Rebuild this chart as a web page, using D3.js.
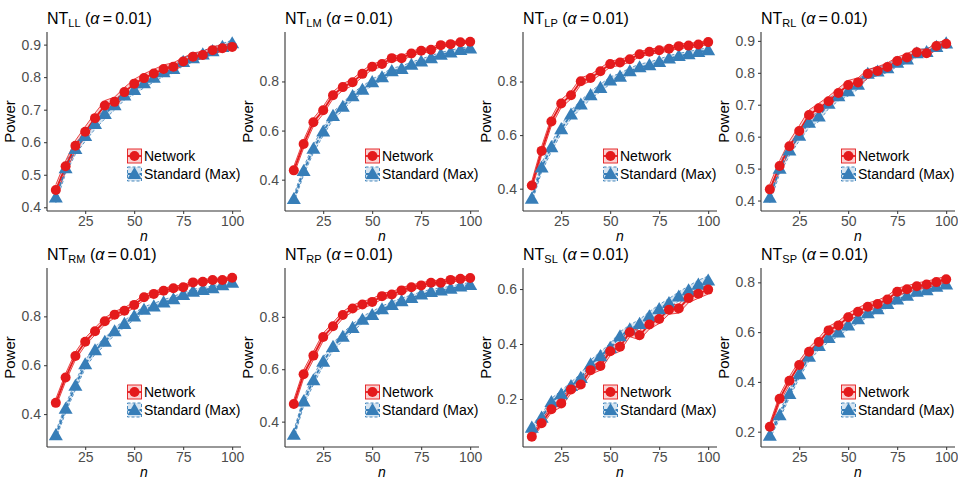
<!DOCTYPE html>
<html><head><meta charset="utf-8">
<script src="https://cdn.jsdelivr.net/npm/d3@7"></script>
<style>
body{margin:0;background:#fff}
text{font-family:"Liberation Sans",Arial,Helvetica,sans-serif}
</style>
</head><body>
<svg id="chart" width="958" height="480"></svg>
<script>
// ---------------- data ----------------
const sampleSizes = [10,15,20,25,30,35,40,45,50,55,60,65,70,75,80,85,90,95,100];
const seriesNames = ["Network", "Standard (Max)"];
const panelSubscripts = ["LL","LM","LP","RL","RM","RP","SL","SP"];
const alphaLevel = "0.01";
const xTicks = [25, 50, 75, 100];
const yTicksLL = [0.4,0.5,0.6,0.7,0.8,0.9];
const yTicksLM = [0.4,0.6,0.8];
const yTicksLP = [0.4,0.6,0.8];
const yTicksRL = [0.4,0.5,0.6,0.7,0.8,0.9];
const yTicksRM = [0.4,0.6,0.8];
const yTicksRP = [0.4,0.6,0.8];
const yTicksSL = [0.2,0.4,0.6];
const yTicksSP = [0.2,0.4,0.6,0.8];
const nReplicates = 3500; // Monte Carlo replicates behind each power estimate (for the CI band)

const networkLL  = [0.453,0.526,0.589,0.632,0.674,0.713,0.724,0.754,0.780,0.797,0.811,0.825,0.832,0.848,0.863,0.868,0.883,0.889,0.893];
const standardLL = [0.430,0.520,0.579,0.619,0.656,0.687,0.714,0.744,0.761,0.781,0.798,0.815,0.825,0.847,0.858,0.870,0.880,0.893,0.904];
const networkLM  = [0.438,0.545,0.634,0.683,0.744,0.777,0.797,0.831,0.860,0.871,0.895,0.895,0.914,0.925,0.929,0.948,0.952,0.960,0.962];
const standardLM = [0.321,0.435,0.526,0.596,0.660,0.697,0.740,0.766,0.797,0.817,0.842,0.851,0.868,0.881,0.895,0.909,0.918,0.928,0.934];
const networkLP  = [0.412,0.541,0.651,0.718,0.749,0.801,0.813,0.838,0.865,0.871,0.883,0.902,0.911,0.917,0.922,0.932,0.934,0.938,0.947];
const standardLP = [0.363,0.479,0.555,0.622,0.677,0.714,0.749,0.776,0.804,0.818,0.838,0.853,0.861,0.873,0.886,0.895,0.902,0.910,0.917];
const networkRL  = [0.435,0.508,0.570,0.618,0.668,0.689,0.711,0.737,0.762,0.770,0.797,0.806,0.818,0.837,0.848,0.864,0.861,0.884,0.891];
const standardRL = [0.409,0.500,0.557,0.603,0.644,0.663,0.703,0.727,0.742,0.763,0.797,0.804,0.814,0.832,0.842,0.861,0.865,0.881,0.892];
const networkRM  = [0.446,0.550,0.638,0.696,0.739,0.780,0.807,0.823,0.847,0.878,0.892,0.905,0.915,0.919,0.939,0.942,0.949,0.949,0.958];
const standardRM = [0.314,0.422,0.516,0.604,0.661,0.696,0.739,0.769,0.800,0.827,0.841,0.857,0.870,0.888,0.901,0.908,0.915,0.928,0.938];
const networkRP  = [0.467,0.581,0.652,0.723,0.764,0.807,0.832,0.847,0.857,0.879,0.885,0.901,0.913,0.920,0.930,0.930,0.941,0.945,0.948];
const standardRP = [0.350,0.477,0.558,0.629,0.685,0.724,0.758,0.789,0.807,0.829,0.845,0.860,0.872,0.885,0.895,0.901,0.907,0.916,0.922];
const networkSL  = [0.063,0.112,0.163,0.184,0.235,0.253,0.305,0.320,0.374,0.390,0.443,0.432,0.471,0.491,0.525,0.529,0.567,0.583,0.598];
const standardSL = [0.096,0.132,0.189,0.217,0.247,0.277,0.326,0.356,0.386,0.428,0.453,0.473,0.501,0.527,0.549,0.573,0.595,0.616,0.631];
const networkSP  = [0.220,0.332,0.405,0.468,0.521,0.560,0.607,0.627,0.660,0.682,0.702,0.713,0.731,0.762,0.772,0.784,0.791,0.801,0.812];
const standardSP = [0.184,0.266,0.352,0.431,0.501,0.544,0.577,0.599,0.627,0.652,0.676,0.692,0.713,0.731,0.746,0.762,0.768,0.782,0.792];

const panels = [
  {sub:"LL", net:networkLL, std:standardLL, ticks:yTicksLL},
  {sub:"LM", net:networkLM, std:standardLM, ticks:yTicksLM},
  {sub:"LP", net:networkLP, std:standardLP, ticks:yTicksLP},
  {sub:"RL", net:networkRL, std:standardRL, ticks:yTicksRL},
  {sub:"RM", net:networkRM, std:standardRM, ticks:yTicksRM},
  {sub:"RP", net:networkRP, std:standardRP, ticks:yTicksRP},
  {sub:"SL", net:networkSL, std:standardSL, ticks:yTicksSL},
  {sub:"SP", net:networkSP, std:standardSP, ticks:yTicksSP}
];

// ---------------- style / layout ----------------
const RED = "#E41A1C", BLUE = "#377EB8";
const colLeft = [47, 285, 523, 761];
const rowTop = [32, 268];
const plotW = 194, plotH = 179;

const svg = d3.select("#chart");

function ci(p){ return 1.96 * Math.sqrt(p*(1-p)/nReplicates); }

const triangle = d3.symbol().type(d3.symbolTriangle).size(85);

panels.forEach((pn, i) => {
  const col = i % 4, row = Math.floor(i / 4);
  const left = colLeft[col], top = rowTop[row];
  const g = svg.append("g").attr("transform", `translate(${left},${top})`);

  const seriesData = [
    {name: seriesNames[1], vals: pn.std, color: BLUE, dash: "4,2", kind: "tri"},
    {name: seriesNames[0], vals: pn.net, color: RED, dash: null, kind: "circ"}
  ].map(s => ({...s, pts: s.vals.map((v, k) => ({n: sampleSizes[k], p: v, lo: v - ci(v), hi: v + ci(v)}))}));

  const allLo = d3.min(seriesData, s => d3.min(s.pts, d => d.lo));
  const allHi = d3.max(seriesData, s => d3.max(s.pts, d => d.hi));
  const yPad = (allHi - allLo) * 0.05;
  const xPad = (d3.max(sampleSizes) - d3.min(sampleSizes)) * 0.05;

  const x = d3.scaleLinear().domain([d3.min(sampleSizes) - xPad, d3.max(sampleSizes) + xPad]).range([0, plotW]);
  const y = d3.scaleLinear().domain([allLo - yPad, allHi + yPad]).range([plotH, 0]);

  const area = d3.area().x(d => x(d.n)).y0(d => y(d.lo)).y1(d => y(d.hi));
  const lineLo = d3.line().x(d => x(d.n)).y(d => y(d.lo));
  const lineHi = d3.line().x(d => x(d.n)).y(d => y(d.hi));
  const line = d3.line().x(d => x(d.n)).y(d => y(d.p));

  // ribbons
  seriesData.forEach(s => {
    g.append("path").attr("d", area(s.pts)).attr("fill", s.color).attr("fill-opacity", 0.2);
    [lineLo, lineHi].forEach(f => g.append("path").attr("d", f(s.pts)).attr("fill", "none")
      .attr("stroke", s.color).attr("stroke-width", 0.8).attr("stroke-dasharray", s.dash ? "3,2" : null));
  });
  // lines
  seriesData.forEach(s => {
    g.append("path").attr("d", line(s.pts)).attr("fill", "none").attr("stroke", s.color)
      .attr("stroke-width", 1.8).attr("stroke-dasharray", s.dash);
  });
  // points
  seriesData.forEach(s => {
    if (s.kind === "circ") {
      g.selectAll(null).data(s.pts).enter().append("circle")
        .attr("cx", d => x(d.n)).attr("cy", d => y(d.p)).attr("r", 5).attr("fill", s.color);
    } else {
      g.selectAll(null).data(s.pts).enter().append("path")
        .attr("d", triangle).attr("transform", d => `translate(${x(d.n)},${y(d.p) + 1})`).attr("fill", s.color);
    }
  });

  // axes
  const xAxis = g.append("g").attr("transform", `translate(0,${plotH})`)
    .call(d3.axisBottom(x).tickValues(xTicks).tickSize(3).tickPadding(2).tickSizeOuter(0));
  const yAxis = g.append("g")
    .call(d3.axisLeft(y).tickValues(pn.ticks).tickFormat(d3.format(".1f")).tickSize(3).tickPadding(3).tickSizeOuter(0));
  [xAxis, yAxis].forEach(a => {
    a.select(".domain").attr("stroke", "#333").attr("stroke-width", 1.1);
    a.selectAll(".tick line").attr("stroke", "#333");
    a.selectAll(".tick text").attr("fill", "#4D4D4D").style("font-size", "14px")
      .style("font-family", '"Liberation Sans",Arial,sans-serif');
  });
  yAxis.select(".domain").attr("d", `M0,0V${plotH}`);
  xAxis.select(".domain").attr("d", `M0,0H${plotW}`);

  // axis titles
  g.append("text").attr("transform", `translate(${-32},${plotH/2}) rotate(-90)`)
    .attr("text-anchor", "middle").style("font-size", "15px").attr("fill", "#000").text("Power");
  g.append("text").attr("x", plotW/2).attr("y", plotH + 30).attr("text-anchor", "middle")
    .style("font-size", "14px").style("font-style", "italic").attr("fill", "#000").text("n");

  // title
  const t = g.append("text").attr("x", 0).attr("y", -8).style("font-size", "16px").attr("fill", "#000")
    .attr("xml:space", "preserve");
  t.append("tspan").text("NT");
  t.append("tspan").attr("dy", 3).style("font-size", "11px").text(pn.sub);
  t.append("tspan").attr("dy", -3).text(" (");
  t.append("tspan").style("font-style", "italic").text("α");
  t.append("tspan").text("\u2009=\u2009" + alphaLevel + ")");

  // legend
  const legendItems = [
    {name: seriesNames[0], color: RED, dash: null, kind: "circ"},
    {name: seriesNames[1], color: BLUE, dash: "3,2", kind: "tri"}
  ];
  const lg = g.append("g").attr("transform", `translate(80,${plotH - 55})`);
  legendItems.forEach((it, k) => {
    const cy = k * 18;
    lg.append("rect").attr("x", 0.5).attr("y", cy - 7).attr("width", 14).attr("height", 14)
      .attr("fill", it.color).attr("fill-opacity", 0.2).attr("stroke", it.color)
      .attr("stroke-width", 0.9).attr("stroke-dasharray", it.dash);
    lg.append("line").attr("x1", 0.5).attr("x2", 14.5).attr("y1", cy).attr("y2", cy)
      .attr("stroke", it.color).attr("stroke-width", 1.8).attr("stroke-dasharray", it.dash ? "4,2" : null);
    if (it.kind === "circ") {
      lg.append("circle").attr("cx", 7.5).attr("cy", cy).attr("r", 5).attr("fill", it.color);
    } else {
      lg.append("path").attr("d", triangle).attr("transform", `translate(7.5,${cy + 1})`).attr("fill", it.color);
    }
    lg.append("text").attr("x", 17).attr("y", cy + 5).style("font-size", "14px").attr("fill", "#000").text(it.name);
  });
});
</script>
</body></html>
